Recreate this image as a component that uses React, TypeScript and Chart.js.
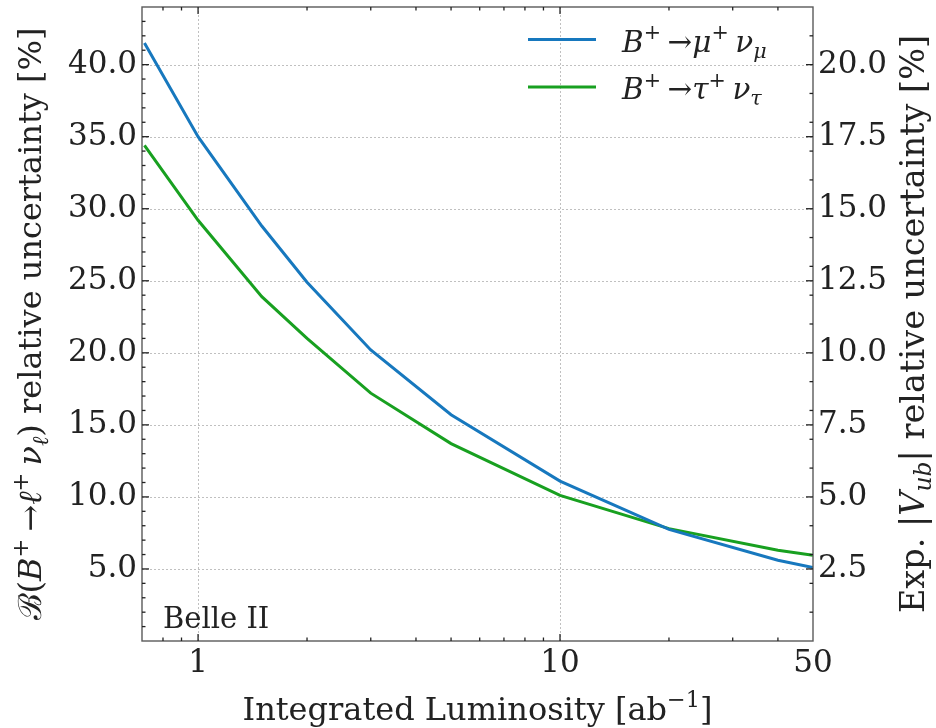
import React, { useEffect, useRef } from "react";
import { Chart, registerables } from "chart.js";

Chart.register(...registerables);

// ---- data ----
const luminosity = [0.711, 1, 1.5, 2, 3, 5, 10, 20, 40, 50];
const muNuUnc = [41.5, 35.0, 28.8, 24.9, 20.2, 15.7, 11.1, 7.75, 5.6, 5.1];
const tauNuUnc = [34.4, 29.2, 23.9, 21.0, 17.2, 13.7, 10.1, 7.8, 6.3, 5.95];
const seriesNames = ["B⁺→μ⁺ν_μ", "B⁺→τ⁺ν_τ"];
const seriesColors = ["#1778be", "#18a020"];

const xTickLabels = [1, 10, 50];
const xMajorTicks = [1, 10];
const xMinorTicks = [0.8, 0.9, 2, 3, 4, 5, 6, 7, 8, 9, 20, 30, 40];
const leftTicks = [5, 10, 15, 20, 25, 30, 35, 40];
const rightTicks = [2.5, 5, 7.5, 10, 12.5, 15, 17.5, 20];

const FONT = '"DejaVu Serif", serif';

type Seg = { t: string; it?: boolean; sup?: boolean; sub?: boolean };

function segFont(s: Seg, size: number) {
  const sz = s.sup || s.sub ? size * 0.7 : size;
  return `${s.it ? "italic " : ""}${sz}px ${FONT}`;
}
function richWidth(ctx: CanvasRenderingContext2D, segs: Seg[], size: number) {
  let w = 0;
  for (const s of segs) {
    ctx.font = segFont(s, size);
    w += ctx.measureText(s.t).width;
  }
  return w;
}
function drawRich(ctx: CanvasRenderingContext2D, segs: Seg[], x: number, y: number, size: number) {
  let cx = x;
  ctx.textBaseline = "alphabetic";
  ctx.textAlign = "left";
  for (const s of segs) {
    ctx.font = segFont(s, size);
    const dy = s.sup ? -size * 0.42 : s.sub ? size * 0.22 : 0;
    ctx.fillText(s.t, cx, y + dy);
    cx += ctx.measureText(s.t).width;
  }
}

const legendSegs: Seg[][] = [
  [{ t: "B", it: true }, { t: "+ ", sup: true }, { t: "→" }, { t: "μ", it: true }, { t: "+ ", sup: true }, { t: "ν", it: true }, { t: "μ", it: true, sub: true }],
  [{ t: "B", it: true }, { t: "+ ", sup: true }, { t: "→" }, { t: "τ", it: true }, { t: "+ ", sup: true }, { t: "ν", it: true }, { t: "τ", it: true, sub: true }],
];
const xTitle: Seg[] = [{ t: "Integrated Luminosity [ab" }, { t: "−1", sup: true }, { t: "]" }];
const leftTitle: Seg[] = [
  { t: "ℬ(" }, { t: "B", it: true }, { t: "+ ", sup: true }, { t: "→" }, { t: "ℓ", it: true }, { t: "+ ", sup: true },
  { t: "ν", it: true }, { t: "ℓ", it: true, sub: true }, { t: ") relative uncertainty [%]" },
];
const rightTitle: Seg[] = [
  { t: "Exp. |" }, { t: "V", it: true }, { t: "ub", it: true, sub: true }, { t: "| relative uncertainty [%]" },
];

const decorPlugin = {
  id: "decor",
  beforeDatasetsDraw(chart: any) {
    const { ctx, chartArea: a, scales } = chart;
    ctx.save();
    ctx.strokeStyle = "#c0c0c0";
    ctx.lineWidth = 1;
    ctx.setLineDash([2, 2]);
    for (const v of xMajorTicks) {
      const px = Math.round(scales.x.getPixelForValue(v)) + 0.5;
      ctx.beginPath();
      ctx.moveTo(px, a.top);
      ctx.lineTo(px, a.bottom);
      ctx.stroke();
    }
    for (const v of leftTicks) {
      const py = Math.round(scales.y.getPixelForValue(v)) + 0.5;
      ctx.beginPath();
      ctx.moveTo(a.left, py);
      ctx.lineTo(a.right, py);
      ctx.stroke();
    }
    ctx.restore();
  },
  afterDatasetsDraw(chart: any) {
    const { ctx, chartArea: a, scales } = chart;
    ctx.save();
    // frame
    ctx.strokeStyle = "#5a5a5a";
    ctx.lineWidth = 1.4;
    ctx.strokeRect(a.left, a.top, a.right - a.left, a.bottom - a.top);
    // ticks
    ctx.strokeStyle = "#222";
    ctx.lineWidth = 1.3;
    const tick = (x1: number, y1: number, x2: number, y2: number) => {
      ctx.beginPath();
      ctx.moveTo(x1, y1);
      ctx.lineTo(x2, y2);
      ctx.stroke();
    };
    const maj = 7, min = 3.5;
    for (const v of xMajorTicks) {
      const px = scales.x.getPixelForValue(v);
      tick(px, a.bottom, px, a.bottom - maj);
      tick(px, a.top, px, a.top + maj);
    }
    for (const v of xMinorTicks) {
      const px = scales.x.getPixelForValue(v);
      tick(px, a.bottom, px, a.bottom - min);
      tick(px, a.top, px, a.top + min);
    }
    for (let v = 1; v <= 43; v++) {
      const py = scales.y.getPixelForValue(v);
      tick(a.left, py, a.left + (v % 5 === 0 ? maj : min), py);
    }
    for (let v = 1; v <= 21; v++) {
      if (v % 5 === 0) continue;
      const py = scales.y2.getPixelForValue(v);
      tick(a.right, py, a.right - min, py);
    }
    for (const v of rightTicks) {
      const py = scales.y2.getPixelForValue(v);
      tick(a.right, py, a.right - maj, py);
    }
    // legend
    ctx.setLineDash([]);
    const legY = [39.5, 87];
    legendSegs.forEach((segs, i) => {
      ctx.strokeStyle = seriesColors[i];
      ctx.lineWidth = 3;
      ctx.beginPath();
      ctx.moveTo(528, legY[i]);
      ctx.lineTo(596, legY[i]);
      ctx.stroke();
      ctx.fillStyle = "#222";
      drawRich(ctx, segs, 622, legY[i] + 12, 29.5);
    });
    // Belle II
    ctx.fillStyle = "#222";
    ctx.font = `29px ${FONT}`;
    ctx.textAlign = "left";
    ctx.textBaseline = "alphabetic";
    ctx.fillText("Belle II", 163, 628);
    // x title
    const cx = (a.left + a.right) / 2;
    const tw = richWidth(ctx, xTitle, 32);
    drawRich(ctx, xTitle, cx - tw / 2, 720, 32);
    // left title
    const cy = (a.top + a.bottom) / 2;
    ctx.save();
    ctx.translate(41, cy);
    ctx.rotate(-Math.PI / 2);
    const lw = richWidth(ctx, leftTitle, 32);
    drawRich(ctx, leftTitle, -lw / 2, 0, 32);
    ctx.restore();
    // right title
    ctx.save();
    ctx.translate(924, cy);
    ctx.rotate(-Math.PI / 2);
    const rw = richWidth(ctx, rightTitle, 33.5);
    drawRich(ctx, rightTitle, -rw / 2, 0, 33.5);
    ctx.restore();
    ctx.restore();
  },
};

export default function App() {
  const ref = useRef<HTMLCanvasElement>(null);
  useEffect(() => {
    if (!ref.current) return;
    const tickFont = { family: FONT, size: 31 };
    const chart = new Chart(ref.current, {
      type: "line",
      data: {
        datasets: [muNuUnc, tauNuUnc].map((vals, i) => ({
          label: seriesNames[i],
          data: luminosity.map((x, j) => ({ x, y: vals[j] })),
          borderColor: seriesColors[i],
          backgroundColor: seriesColors[i],
          borderWidth: 3,
          pointRadius: 0,
          tension: 0,
          yAxisID: "y",
        })),
      },
      options: {
        animation: false,
        responsive: false,
        maintainAspectRatio: false,
        layout: { padding: { top: 7, left: 0, right: 0, bottom: 0 } },
        plugins: { legend: { display: false }, tooltip: { enabled: false } },
        scales: {
          x: {
            type: "logarithmic",
            min: 0.711,
            max: 50,
            grid: { display: false, drawTicks: false },
            border: { display: false },
            afterBuildTicks: (s: any) => {
              s.ticks = xTickLabels.map((v) => ({ value: v }));
            },
            afterFit: (s: any) => {
              s.height = 87;
              s.paddingLeft = 0;
              s.paddingRight = 0;
            },
            ticks: {
              autoSkip: false,
              maxRotation: 0,
              padding: 4,
              color: "#222",
              font: tickFont,
              callback: (v: any) => String(v),
            },
          },
          y: {
            type: "linear",
            position: "left",
            min: 0,
            max: 44,
            grid: { display: false, drawTicks: false },
            border: { display: false },
            afterBuildTicks: (s: any) => {
              s.ticks = leftTicks.map((v) => ({ value: v }));
            },
            afterFit: (s: any) => {
              s.width = 142;
              s.paddingTop = 0;
              s.paddingBottom = 0;
            },
            ticks: {
              padding: 5,
              color: "#222",
              font: tickFont,
              callback: (v: any) => Number(v).toFixed(1),
            },
          },
          y2: {
            type: "linear",
            position: "right",
            min: 0,
            max: 22,
            grid: { display: false, drawTicks: false },
            border: { display: false },
            afterBuildTicks: (s: any) => {
              s.ticks = rightTicks.map((v) => ({ value: v }));
            },
            afterFit: (s: any) => {
              s.width = 123;
              s.paddingTop = 0;
              s.paddingBottom = 0;
            },
            ticks: {
              padding: 5,
              color: "#222",
              font: tickFont,
              callback: (v: any) => Number(v).toFixed(1),
            },
          },
        },
      },
      plugins: [decorPlugin],
    });
    return () => chart.destroy();
  }, []);
  return (
    <div style={{ position: "fixed", left: 0, top: 0, width: 936, height: 728, background: "#fff" }}>
      <canvas ref={ref} width={936} height={728} style={{ width: 936, height: 728 }} />
    </div>
  );
}
